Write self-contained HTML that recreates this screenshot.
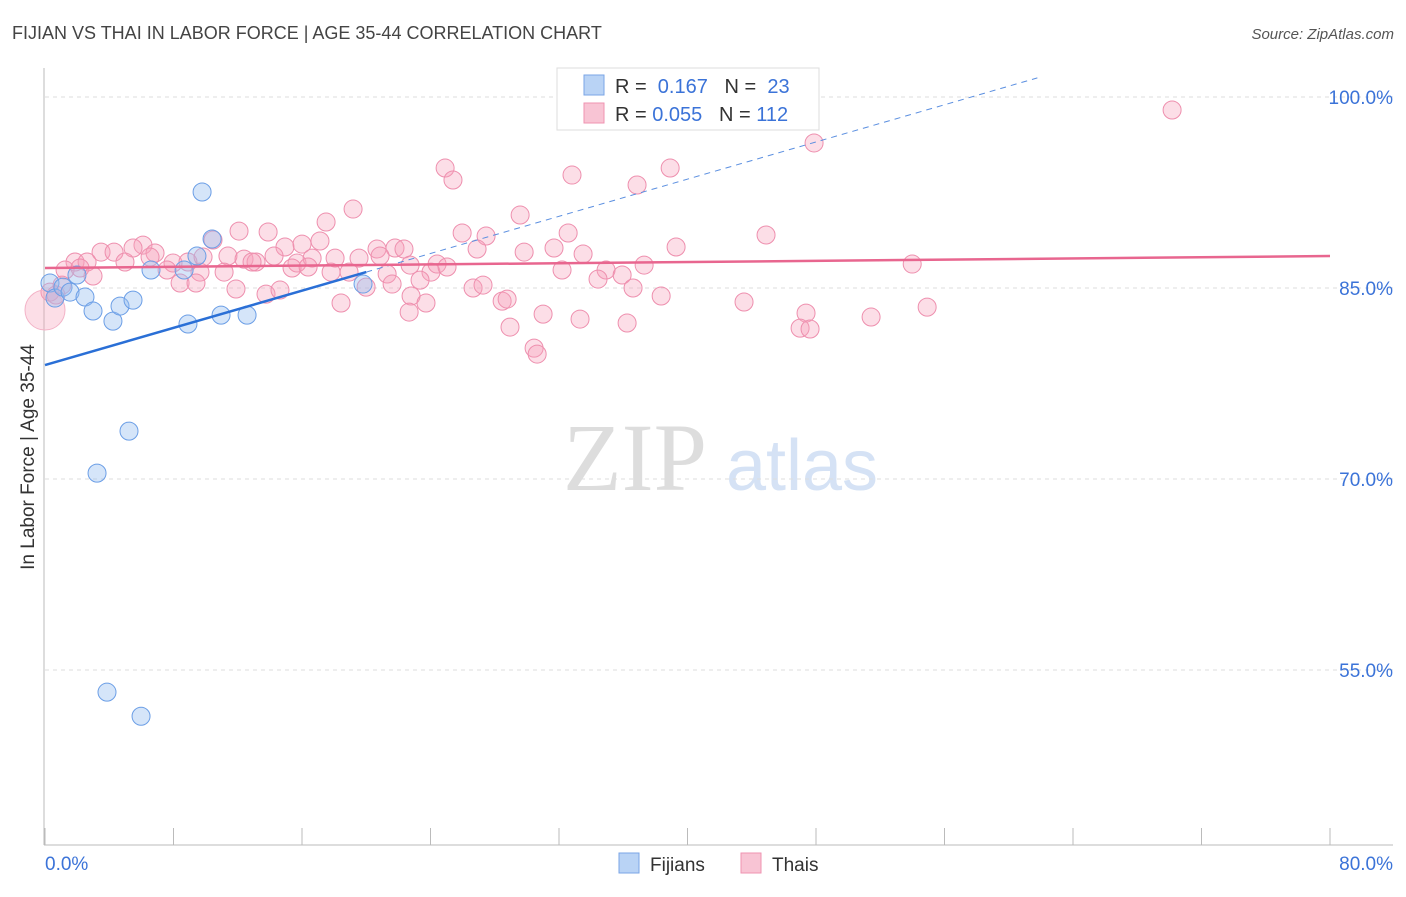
<!DOCTYPE html>
<html><head><meta charset="utf-8"><style>
body{margin:0;background:#fff;font-family:"Liberation Sans",sans-serif}
</style></head><body>
<svg id="c" width="1406" height="892" xmlns="http://www.w3.org/2000/svg" style="font-family:'Liberation Sans',sans-serif">
<text x="12" y="39" font-size="18" fill="#444">FIJIAN VS THAI IN LABOR FORCE | AGE 35-44 CORRELATION CHART</text>
<text x="1394" y="39" font-size="15" fill="#555" font-style="italic" text-anchor="end">Source: ZipAtlas.com</text>
<text x="635" y="490" font-size="96" fill="#ddd" font-family="Liberation Serif" text-anchor="middle">ZIP</text>
<text x="802" y="490" font-size="72" fill="#d5e2f5" text-anchor="middle">atlas</text>
<g id="grid"></g><g id="marks"></g>
<text transform="translate(34,457) rotate(-90)" font-size="19" fill="#333" text-anchor="middle">In Labor Force | Age 35-44</text>
<text x="45" y="870" font-size="19" fill="#3b73d8">0.0%</text>
<text x="1393" y="870" font-size="19" fill="#3b73d8" text-anchor="end">80.0%</text>
<g>
<rect x="557" y="68" width="262" height="62" fill="#fff" stroke="#ddd"/>
<rect x="584" y="75" width="20" height="20" fill="#b9d3f5" stroke="#7aa5e6"/>
<rect x="584" y="103" width="20" height="20" fill="#f8c4d4" stroke="#ef93b1"/>
<text x="615" y="93" font-size="20" fill="#333">R = <tspan fill="#3b73d8">&#160;0.167</tspan>&#160;&#160;&#160;N = <tspan fill="#3b73d8">&#160;23</tspan></text>
<text x="615" y="121" font-size="20" fill="#333">R = <tspan fill="#3b73d8">0.055</tspan>&#160;&#160;&#160;N = <tspan fill="#3b73d8">112</tspan></text>
</g>
<g>
<rect x="619" y="853" width="20" height="20" fill="#b9d3f5" stroke="#7aa5e6"/>
<text x="650" y="871" font-size="19" fill="#333">Fijians</text>
<rect x="741" y="853" width="20" height="20" fill="#f8c4d4" stroke="#ef93b1"/>
<text x="772" y="871" font-size="19" fill="#333">Thais</text>
</g>
</svg>
<script>
const yTicks=[100,85,70,55];
const xTicks=[0,8,16,24,32,40,48,56,64,72,80];
const fijX=[9.78,10.40,9.46,8.66,6.60,0.31,0.62,1.12,1.56,2.49,2.99,4.23,4.67,5.48,8.90,10.96,12.58,19.80,5.23,3.24,3.86,5.98,1.99];
const fijY=[92.54,88.85,87.51,86.41,86.41,85.39,84.21,85.07,84.68,84.29,83.19,82.40,83.58,84.05,82.17,82.87,82.87,85.31,73.76,70.46,53.26,51.37,86.02];
const thaiX=[70.17,47.88,24.91,25.40,38.92,32.81,36.86,19.18,29.58,17.50,12.08,13.89,25.97,27.46,32.57,44.89,10.46,17.12,6.10,3.49,5.48,6.85,14.94,16.00,20.67,21.79,22.35,26.90,29.83,31.69,33.50,39.29,1.87,2.62,4.30,4.98,6.54,7.97,8.90,9.84,11.39,12.39,13.14,14.26,15.69,16.63,18.06,19.55,20.86,12.89,1.25,2.18,2.99,7.60,9.65,11.15,15.38,16.38,17.81,18.93,21.30,22.73,24.03,24.41,25.03,32.19,34.93,37.30,53.99,8.41,9.40,11.89,13.76,14.63,18.43,19.99,21.61,22.79,23.35,23.72,26.65,27.27,28.46,28.77,34.43,35.93,36.61,38.36,22.67,28.95,31.01,33.31,36.24,43.52,47.38,47.01,47.63,51.43,54.92,30.45,30.64,0.31,0.68,1.06];
const thaiY=[98.98,96.39,94.42,93.48,94.42,93.87,93.09,91.20,90.73,90.18,89.47,89.40,89.32,89.08,89.32,89.16,88.77,88.69,88.37,87.82,88.14,87.75,88.22,88.45,88.06,88.14,88.06,88.06,87.82,88.14,87.67,88.22,87.04,87.04,87.82,87.04,87.43,86.96,87.04,87.43,87.51,87.27,87.04,87.51,86.96,87.35,87.35,87.35,87.51,87.04,86.41,86.57,85.94,86.41,86.25,86.25,86.57,86.65,86.25,86.25,86.10,86.80,86.25,86.88,86.65,86.41,86.41,86.80,86.88,85.39,85.39,84.92,84.52,84.84,83.82,85.07,85.31,84.37,85.62,83.82,85.00,85.23,83.97,84.13,85.70,86.02,85.00,84.37,83.11,81.93,82.95,82.56,82.25,83.90,83.03,81.85,81.78,82.72,83.50,80.28,79.81,84.68,84.45,85.23];
const bigThai=[[0,83.27]];
const fijTrend=[78.95,0.365];
const thaiTrend=[86.57,87.51];
const NS='http://www.w3.org/2000/svg';
const X=v=>45+v*(1285/80), Y=v=>97+(100-v)*(191/15);
const grid=document.getElementById('grid'), marks=document.getElementById('marks');
function mk(tag,a,p){const e=document.createElementNS(NS,tag);for(const k in a)e.setAttribute(k,a[k]);p.appendChild(e);return e;}
yTicks.forEach(t=>{
 const l=mk('line',{x1:45,x2:1393,y1:Y(t),y2:Y(t),stroke:'#ddd','stroke-dasharray':'4,4'},grid);
 
 
 const tx=mk('text',{x:1393,y:Y(t)+7,'font-size':19,fill:'#3b73d8','text-anchor':'end'},grid);
 tx.textContent=t.toFixed(1)+'%';
 
 
});
const ax=mk('line',{x1:44,x2:44,y1:68,y2:845,stroke:'#bbb'},grid);


const bx=mk('line',{x1:44,x2:1393,y1:845,y2:845,stroke:'#bbb'},grid);


xTicks.forEach(t=>{
 const l=mk('line',{x1:X(t),x2:X(t),y1:828,y2:845,stroke:'#bbb'},grid);
 
 
});
thaiX.forEach((v,i)=>{
 const c=mk('circle',{cx:X(v),cy:Y(thaiY[i]),r:9,fill:'rgba(245,160,185,0.35)',stroke:'#ee8fae','stroke-width':1},marks);
 
 
});
bigThai.forEach(p=>{
 const c=mk('circle',{cx:X(p[0]),cy:Y(p[1]),r:20,fill:'rgba(245,160,185,0.35)',stroke:'#f3b3c7'},marks);
 
 
});
fijX.forEach((v,i)=>{
 const c=mk('circle',{cx:X(v),cy:Y(fijY[i]),r:9,fill:'rgba(150,190,240,0.4)',stroke:'#6b9ee6','stroke-width':1},marks);
 
 
});
const fEnd=(101.5-fijTrend[0])/fijTrend[1];
let l=mk('line',{x1:X(0),y1:Y(fijTrend[0]),x2:X(20),y2:Y(fijTrend[0]+20*fijTrend[1]),stroke:'#2a6fd6','stroke-width':2.5},marks);


l=mk('line',{x1:X(20),y1:Y(fijTrend[0]+20*fijTrend[1]),x2:X(fEnd),y2:Y(101.5),stroke:'#5b8fe0','stroke-width':1,'stroke-dasharray':'6,5'},marks);


l=mk('line',{x1:X(0),y1:Y(thaiTrend[0]),x2:X(80),y2:Y(thaiTrend[1]),stroke:'#e8668f','stroke-width':2.5},marks);


</script>
</body></html>
